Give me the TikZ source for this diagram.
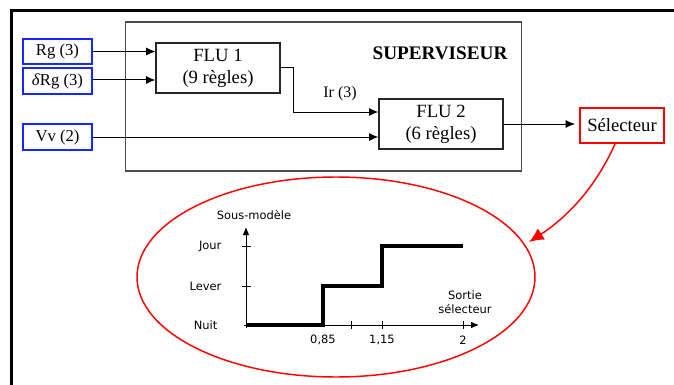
\documentclass[tikz,border=0pt]{standalone}
\usepackage{fontspec}
\setmainfont{Liberation Serif}
\newfontfamily\graphfont{DejaVu Sans}
\usetikzlibrary{arrows.meta,calc}
\definecolor{boxblue}{RGB}{20,40,255}
\begin{document}
\begin{tikzpicture}[x=0.75pt,y=-0.75pt,
  inbox/.style={draw=boxblue,line width=1.5pt,inner sep=0pt,minimum width=51.75pt,minimum height=19pt,font=\fontsize{12.5}{14}\selectfont},
  flubox/.style={draw=black!85,line width=0.8pt,inner sep=0pt,minimum width=93pt,minimum height=37.5pt,align=center,font=\fontsize{14}{16.5}\selectfont},
  conn/.style={line width=0.75pt,-{Latex[length=7pt,width=6pt]}},
  gtext/.style={font=\graphfont\fontsize{8.6}{10.5}\selectfont,inner sep=1pt,align=center},
  axisline/.style={line width=0.75pt},
  axarrow/.style={line width=0.75pt,-{Latex[length=6pt,width=5pt]}},
  stepline/.style={line width=2.3pt},
  redarrow/.style={red,line width=1.1pt,-{Latex[length=11pt,width=10pt]}}]
\useasboundingbox (0,0) rectangle (674,385);
% outer frame
\draw[line width=2.25pt] (11.5,385) -- (11.5,11) -- (674,11);
% supervisor box
\node[draw=black!70,line width=0.8pt,minimum width=297pt,minimum height=111.75pt,inner sep=0pt] (sup) at (323.75,96.5) {};
\node[font=\bfseries\fontsize{14.4}{16}\selectfont] (suptitle) at (440,53) {SUPERVISEUR};
% inputs
\node[inbox] (rg) at (57.5,51.5) {Rg (3)};
\node[inbox] (drg) at (57.5,81) {\textit{δ}Rg (3)};
\node[inbox] (vv) at (57.5,137) {Vv (2)};
% FLU boxes
\node[flubox] (flu1) at (218,68) {FLU 1\\(9 règles)};
\node[flubox] (flu2) at (441,124) {FLU 2\\(6 règles)};
% selector
\node[draw=red,line width=1.5pt,inner sep=0pt,minimum width=63pt,minimum height=26.25pt,font=\fontsize{14}{16}\selectfont] (sel) at (622,125.5) {Sélecteur};
% connectors
\draw[conn] (rg.east) -- (rg.east -| flu1.west);
\draw[conn] ($(drg.east)+(0,-1)$) coordinate (drgout) -- (drgout -| flu1.west);
\coordinate (irin) at ($(flu2.west)+(0,-12)$);
\draw[conn] (flu1.east) -- ++(13,0) coordinate (irbend) |- (irin);
\node[font=\fontsize{12}{14}\selectfont] (irlabel) at (340,94) {Ir (3)};
\draw[conn] (vv.east) -- (vv.east -| flu2.west);
\draw[conn,shorten >=3pt] (flu2.east) -- (flu2.east -| sel.west);
% red curve
\coordinate (redstart) at ($(sel.south)+(-7,0)$);
\coordinate (redtip) at (529,242);
\draw[redarrow] (redstart) .. controls (598,182) and (572,214) .. (redtip);
% ellipse
\draw[red,line width=1.1pt] (336,277) ellipse [x radius=149.25pt, y radius=75pt];
% graph
\coordinate (O) at (246,325);
\draw[axarrow] (246,328) -- (246,227);
\draw[axarrow] (244,325) -- (479,325);
\foreach \yy in {246,286} \draw[axisline] (242,\yy) -- (251,\yy);
\foreach \xx in {351,382,463} \draw[axisline] (\xx,321) -- (\xx,329);
\draw[stepline] (O) -- (323,325) -- (323,286) -- (382,286) -- (382,246) -- (463,246);
\node[gtext] (ylab) at (254,215) {Sous-modèle};
\node[gtext,anchor=east] (jour) at (223,246) {Jour};
\node[gtext,anchor=east] (lever) at (223,286) {Lever};
\node[gtext,anchor=east] (nuit) at (219,325) {Nuit};
\node[gtext] (xlab) at (465,302) {Sortie\\sélecteur};
\node[gtext] (t085) at (323,340) {0,85};
\node[gtext] (t115) at (382,340) {1,15};
\node[gtext] (t2) at (463,340) {2};
\end{tikzpicture}
\end{document}
